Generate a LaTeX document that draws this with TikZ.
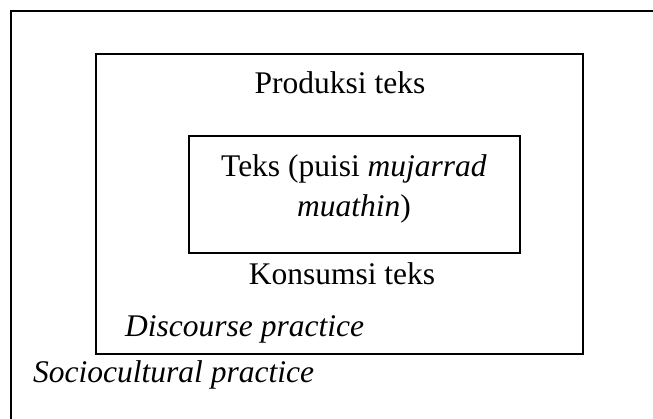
\documentclass[tikz,border=0pt]{standalone}
\usepackage{fontspec}
\setmainfont{Liberation Serif}
\begin{document}
\begin{tikzpicture}[x=1pt,y=-1pt,
  box/.style={draw=black,line width=2pt,inner sep=0pt},
  lbl/.style={inner sep=0pt,anchor=base,font=\fontsize{31.5}{40}\selectfont}]
\useasboundingbox (0,0) rectangle (653,419);
\fill[white] (0,0) rectangle (653,419);
% outer (sociocultural) frame, cut by the page on the right and bottom
\coordinate (oa) at (11,419);
\coordinate (ob) at (11,11);
\coordinate (oc) at (653,11);
\draw[line width=2pt] (oa) -- (ob) -- (oc);
% discourse practice box
\node[box,minimum width=487pt,minimum height=300pt] (mid) at (339.5,204) {};
% text box
\node[box,minimum width=331pt,minimum height=117pt] (txt) at (354.5,194.5) {};
% labels
\node[lbl] (prod) at (340,94) {Produksi teks};
\node[lbl] (t1) at (354,177) {Teks (puisi \textit{mujarrad}};
\node[lbl] (t2) at (354,217) {\textit{muathin})};
\node[lbl] (kons) at (342,285) {Konsumsi teks};
\node[lbl,anchor=base west] (disc) at (125,337) {\textit{Discourse practice}};
\node[lbl,anchor=base west] (soc) at (33,382) {\textit{Sociocultural practice}};
\end{tikzpicture}
\end{document}
